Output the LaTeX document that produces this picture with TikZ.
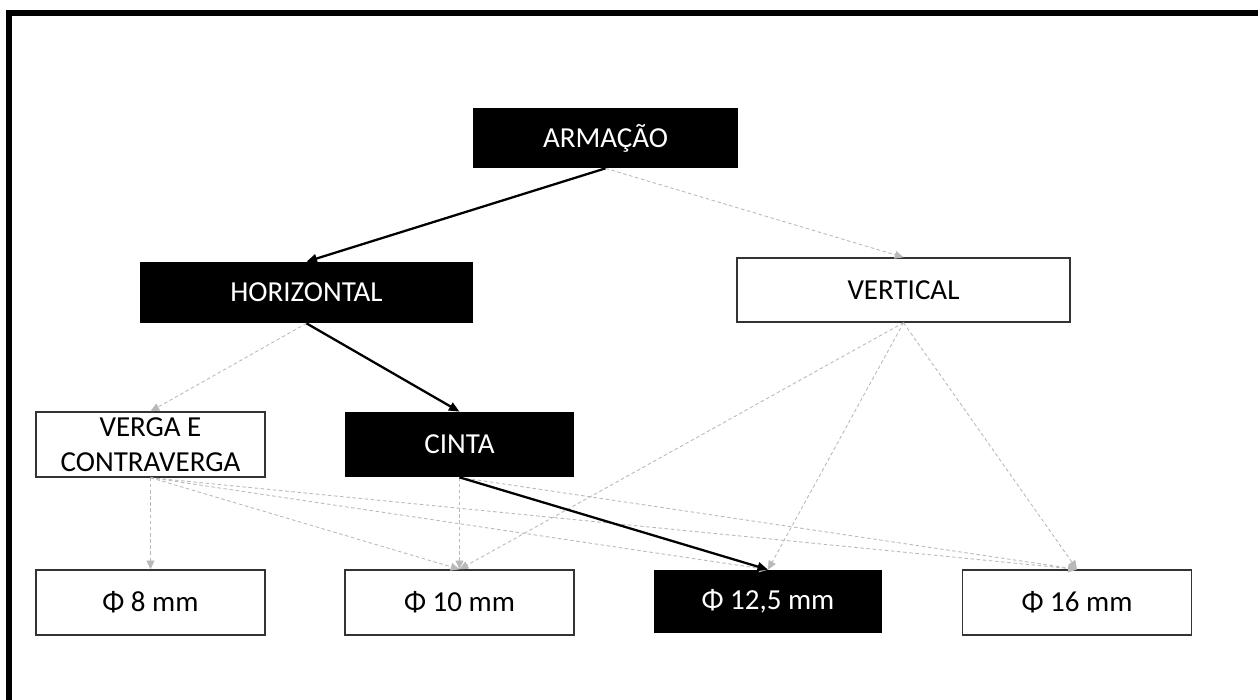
\documentclass[tikz,border=0pt]{standalone}
\usepackage{fontspec}
\setmainfont{Carlito}
\usetikzlibrary{arrows.meta}

\tikzset{
	darkbox/.style={fill=black, text=white, minimum width=4.58cm, minimum height=1.3cm, inner sep=0pt},
	lightbox/.style={draw=black!80, line width=0.8pt, fill=white, text=black, minimum width=4.58cm, minimum height=1.3cm, inner sep=0pt},
	mainarrow/.style={line width=1.3pt, -{Triangle[length=6pt,width=5pt]}},
	sidearrow/.style={gray!55, line width=0.5pt, dash pattern=on 2pt off 1.5pt, -{Triangle[length=5pt,width=4.5pt]}},
}

\begin{document}
\begin{tikzpicture}[x=0.02cm, y=-0.02cm, font=\fontsize{16.5}{20}\selectfont]
	\useasboundingbox (0,0) rectangle (1258,700);
	\draw [line width=3.4pt] (9,700) -- (9,13) -- (1258,13);
	
	\node[darkbox, minimum width=5.3cm, minimum height=1.2cm] (armacao) at (605.5,138) {ARMAÇÃO};
	\node[darkbox, minimum width=6.66cm, minimum height=1.22cm] (horizontal) at (306.5,292.5) {HORIZONTAL};
	\node[lightbox, minimum width=6.66cm, minimum height=1.28cm] (vertical) at (903.5,290) {VERTICAL};
	\node[lightbox, align=center] (verga) at (150.5,444.5) {VERGA E\\CONTRAVERGA};
	\node[darkbox] (cinta) at (459.5,444.5) {CINTA};
	\node[lightbox] (phi8) at (150.5,602.5) {Φ 8 mm};
	\node[lightbox] (phi10) at (459.5,602.5) {Φ 10 mm};
	\node[darkbox, minimum height=1.26cm] (phi125) at (768,601.5) {Φ 12,5 mm};
	\node[lightbox] (phi16) at (1077,602.5) {Φ 16 mm};
	
	\draw[sidearrow] (armacao.south) -- (vertical.north);
	\draw[sidearrow] (horizontal.south) -- (verga.north);
	\draw[sidearrow] (vertical.south) -- (phi10.north);
	\draw[sidearrow] (vertical.south) -- (phi125.north);
	\draw[sidearrow] (vertical.south) -- (phi16.north);
	\draw[sidearrow] (verga.south) -- (phi8.north);
	\draw[sidearrow] (verga.south) -- (phi10.north);
	\draw[sidearrow] (verga.south) -- (phi125.north);
	\draw[sidearrow] (verga.south) -- (phi16.north);
	\draw[sidearrow] (cinta.south) -- (phi10.north);
	\draw[sidearrow] (cinta.south) -- (phi16.north);
	
	\draw[mainarrow] (armacao.south) -- (horizontal.north);
	\draw[mainarrow] (horizontal.south) -- (cinta.north);
	\draw[mainarrow] (cinta.south) -- (phi125.north);
\end{tikzpicture}
\end{document}
